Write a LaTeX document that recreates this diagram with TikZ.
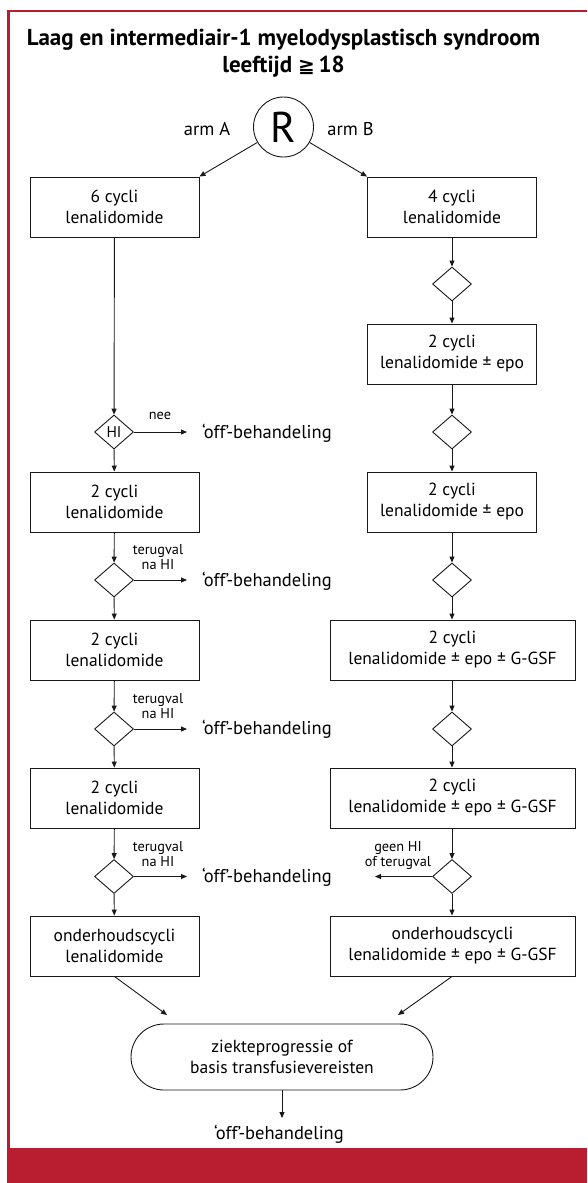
\documentclass[tikz,border=0pt]{standalone}
\usepackage{fontspec}
\setmainfont{PT Sans}
\newfontfamily\symfnt{DejaVu Sans}
\usetikzlibrary{arrows.meta,shapes.geometric}
\definecolor{frame}{RGB}{185,29,48}
\definecolor{ink}{RGB}{25,25,25}
\tikzset{
  stepbox/.style={draw=ink,line width=0.9pt,minimum width=169pt,minimum height=60pt,inner sep=0pt,align=center,font=\fontsize{17.5}{21}\selectfont},
  widebox/.style={stepbox,minimum width=245pt},
  decis/.style={draw=ink,line width=0.9pt,diamond,minimum width=39pt,minimum height=34pt,inner sep=0pt,font=\fontsize{15.5}{15.5}\selectfont},
  arr/.style={draw=ink,line width=0.9pt,-{Triangle[length=6pt,width=5pt]}},
  lbl/.style={inner sep=0pt,align=center,font=\fontsize{14.3}{15}\selectfont},
  offtxt/.style={inner sep=0pt,font=\fontsize{18.5}{20}\selectfont},
}
\begin{document}
\begin{tikzpicture}[x=1pt,y=-1pt]
\useasboundingbox (0,0) rectangle (587,1183);
\fill[white] (0,0) rectangle (587,1183);
% frame
\fill[frame] (7,1148) rectangle (587,1183);
\fill[frame] (7.3,10) rectangle (9.7,1148);
\fill[frame] (7.3,10) rectangle (587,12.4);
% title
\node[inner sep=0pt,anchor=base,font=\fontsize{23}{27}\bfseries] (title1) at (283.5,45) {Laag en intermediair-1 myelodysplastisch syndroom};
\node[inner sep=0pt,anchor=base,font=\fontsize{23}{27}\bfseries] (title2) at (283.5,72) {leeftijd {\symfnt\fontsize{20}{20}\selectfont ≧}\,18};
% randomisation
\node[draw=ink,line width=0.9pt,circle,minimum size=60pt,inner sep=0pt,font=\fontsize{43}{43}\selectfont] (R) at (283.5,127) {R};
\node[offtxt,anchor=base] (armA) at (207,135) {arm A};
\node[offtxt,anchor=base] (armB) at (350.5,135) {arm B};
% left column
\node[stepbox] (a1) at (114.5,207) {6 cycli\\lenalidomide};
\node[decis] (ad1) at (114,432) {HI};
\node[stepbox] (a2) at (114.5,502) {2 cycli\\lenalidomide};
\node[decis] (ad2) at (114,580) {};
\node[stepbox] (a3) at (114.5,650) {2 cycli\\lenalidomide};
\node[decis] (ad3) at (114,729) {};
\node[stepbox] (a4) at (114.5,798) {2 cycli\\lenalidomide};
\node[decis] (ad4) at (114,876.5) {};
\node[stepbox] (a5) at (114.5,946) {onderhoudscycli\\lenalidomide};
% right column
\node[stepbox] (b1) at (452,207) {4 cycli\\lenalidomide};
\node[decis] (bd1) at (452,284) {};
\node[stepbox] (b2) at (452,354) {2 cycli\\lenalidomide ± epo};
\node[decis] (bd2) at (452,432) {};
\node[stepbox] (b3) at (452,502) {2 cycli\\lenalidomide ± epo};
\node[decis] (bd3) at (452,580) {};
\node[widebox] (b4) at (452.5,650) {2 cycli\\lenalidomide ± epo ± G-GSF};
\node[decis] (bd4) at (452,729) {};
\node[widebox] (b5) at (452.5,798) {2 cycli\\lenalidomide ± epo ± G-GSF};
\node[decis] (bd5) at (452,876.5) {};
\node[widebox] (b6) at (452.5,946) {onderhoudscycli\\lenalidomide ± epo ± G-GSF};
% end
\node[draw=ink,line width=0.9pt,rounded corners=33pt,minimum width=302pt,minimum height=66pt,inner sep=0pt,align=center,font=\fontsize{17.5}{21}\selectfont] (end) at (282,1057) {ziekteprogressie of\\basis transfusievereisten};
% off texts
\node[offtxt,anchor=base west] (off1) at (202,438) {‘off’-behandeling};
\node[offtxt,anchor=base west] (off2) at (202,586) {‘off’-behandeling};
\node[offtxt,anchor=base west] (off3) at (202,734) {‘off’-behandeling};
\node[offtxt,anchor=base west] (off4) at (202,882) {‘off’-behandeling};
\node[offtxt,anchor=base] (off5) at (279,1139) {‘off’-behandeling};
% labels
\node[lbl] (l1) at (160,416) {nee};
\node[lbl] (l2) at (158,557.5) {terugval\\na HI};
\node[lbl] (l3) at (158,706) {terugval\\na HI};
\node[lbl] (l4) at (158,854) {terugval\\na HI};
\node[lbl] (l5) at (398,855) {geen HI\\of terugval};
% coordinates
\coordinate (rtip) at (375,876.5);
\coordinate (eL) at (167,1015);
\coordinate (eR) at (398,1015);
\coordinate (eD) at (282,1118);
% connectors
\draw[arr] (R) -- (a1.north east);
\draw[arr] (R) -- (b1.north west);
\draw[arr] (a1) -- (ad1);
\draw[arr] (ad1) -- (a2);
\draw[arr] (a2) -- (ad2);
\draw[arr] (ad2) -- (a3);
\draw[arr] (a3) -- (ad3);
\draw[arr] (ad3) -- (a4);
\draw[arr] (a4) -- (ad4);
\draw[arr] (ad4) -- (a5);
\draw[arr] (b1) -- (bd1);
\draw[arr] (bd1) -- (b2);
\draw[arr] (b2) -- (bd2);
\draw[arr] (bd2) -- (b3);
\draw[arr] (b3) -- (bd3);
\draw[arr] (bd3) -- (b4.north -| bd3);
\draw[arr] (b4.south -| bd3) -- (bd4);
\draw[arr] (bd4) -- (b5.north -| bd4);
\draw[arr] (b5.south -| bd4) -- (bd5);
\draw[arr] (bd5) -- (b6.north -| bd5);
\draw[arr,shorten >=15pt] (ad1.east) -- (ad1.east -| off1.west);
\draw[arr,shorten >=15pt] (ad2.east) -- (ad2.east -| off2.west);
\draw[arr,shorten >=15pt] (ad3.east) -- (ad3.east -| off3.west);
\draw[arr,shorten >=15pt] (ad4.east) -- (ad4.east -| off4.west);
\draw[arr] (bd5.west) -- (rtip);
\draw[arr] (a5.south) -- (eL);
\draw[arr] (b6.south -| bd5) -- (eR);
\draw[arr] (end.south) -- (eD);
\end{tikzpicture}
\end{document}
